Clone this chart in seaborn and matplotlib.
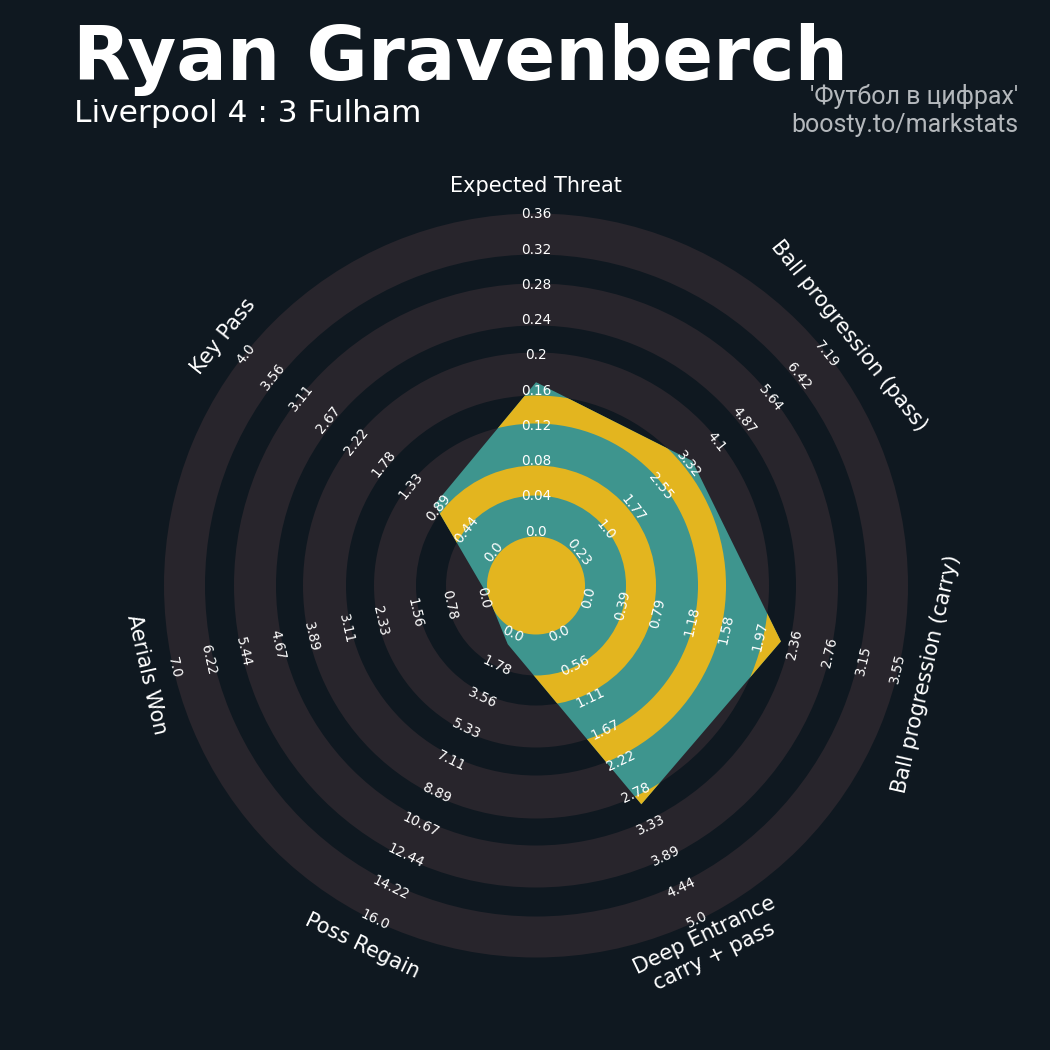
import matplotlib
matplotlib.use("Agg")
import matplotlib.pyplot as plt
import numpy as np
import seaborn as sns
from matplotlib.patches import Polygon, Wedge

# radar data (clockwise from the top)
params = [
    "Expected Threat",
    "Ball progression (pass)",
    "Ball progression (carry)",
    "Deep Entrance\ncarry + pass",
    "Poss Regain",
    "Aerials Won",
    "Key Pass",
]
min_range = [0.0, 0.2255, 0.0, 0.0, 0.0, 0.0, 0.0]
max_range = [0.36, 7.193, 3.546, 5.0, 16.0, 7.0, 4.0]
values = [0.172, 3.48, 2.22, 3.0, 0.8, 0.0, 1.0]

title = "Ryan Gravenberch"
subtitle = "Liverpool 4 : 3 Fulham"
credit_lines = ["'Футбол в цифрах'", "boosty.to/markstats"]

BG = "#0f1820"
RING = "#28252c"
TEAL = "#3e958e"
GOLD = "#e3b51f"
GREY = "#b4b8bc"

# geometry, in pixels of the 1050 px canvas
CX, CY = 536.0, 585.5
R_IN, R_OUT = 49.0, 372.0
shaded_bands = [(49, 90), (120, 162), (190, 233), (260, 302), (331, 372)]
gold_bands = [(0, 49), (90, 120), (162, 190), (233, 260), (302, 331)]
N_LABELS = 10


def scale(v, lo, hi):
    return R_IN + (v - lo) / (hi - lo) * (R_OUT - R_IN)


def to_xy(r, theta):
    t = np.deg2rad(theta)
    return CX + r * np.cos(t), CY - r * np.sin(t)


def text_rotation(theta):
    return (theta % 180) - 90


sns.set_theme(style="dark", rc={"axes.facecolor": BG, "figure.facecolor": BG})
plt.rcParams["font.family"] = ["DejaVu Sans"]

fig = plt.figure(figsize=(10.5, 10.5), dpi=100)
ax = fig.add_axes([0, 0, 1, 1])
ax.set_xlim(0, 1050)
ax.set_ylim(1050, 0)
ax.set_aspect("equal")
ax.axis("off")

n = len(params)
angles = 90 - np.arange(n) * 360 / n

# background rings
for r0, r1 in shaded_bands:
    ax.add_patch(Wedge((CX, CY), r1, 0, 360, width=r1 - r0, facecolor=RING, edgecolor="none"))

# radar polygon
radii = [scale(v, lo, hi) for v, lo, hi in zip(values, min_range, max_range)]
verts = [to_xy(r, a) for r, a in zip(radii, angles)]
poly = Polygon(verts, closed=True, facecolor=TEAL, edgecolor="none", zorder=2)
ax.add_patch(poly)
for r0, r1 in gold_bands:
    band = Wedge((CX, CY), r1, 0, 360, width=r1 - r0, facecolor=GOLD, edgecolor="none", zorder=3)
    ax.add_patch(band)
    band.set_clip_path(poly)

# range labels along every spoke
label_r = np.linspace(54, 371, N_LABELS)
for a, lo, hi in zip(angles, min_range, max_range):
    ticks = np.linspace(lo, hi, N_LABELS)
    for r, t in zip(label_r, ticks):
        x, y = to_xy(r, a)
        ax.text(x, y, str(round(float(t), 2)), color="white", fontsize=9.8,
                ha="center", va="center", rotation=text_rotation(a),
                rotation_mode="anchor", zorder=5)

# parameter names
for p, a in zip(params, angles):
    x, y = to_xy(400, a)
    ax.text(x, y, p, color="white", fontsize=15, ha="center", va="center",
            multialignment="center", rotation=text_rotation(a),
            rotation_mode="anchor", zorder=5)

# titles
ax.text(73, 80, title, color="white", fontsize=54, fontweight="bold",
        ha="left", va="baseline")
ax.text(74, 122, subtitle, color="white", fontsize=22.5, ha="left", va="baseline")
ax.text(1018, 104, credit_lines[0], color=GREY, fontsize=18, family="Roboto",
        ha="right", va="baseline")
ax.text(1018, 132, credit_lines[1], color=GREY, fontsize=18, family="Roboto",
        ha="right", va="baseline")

fig.savefig("out.png", dpi=100, facecolor=BG)
